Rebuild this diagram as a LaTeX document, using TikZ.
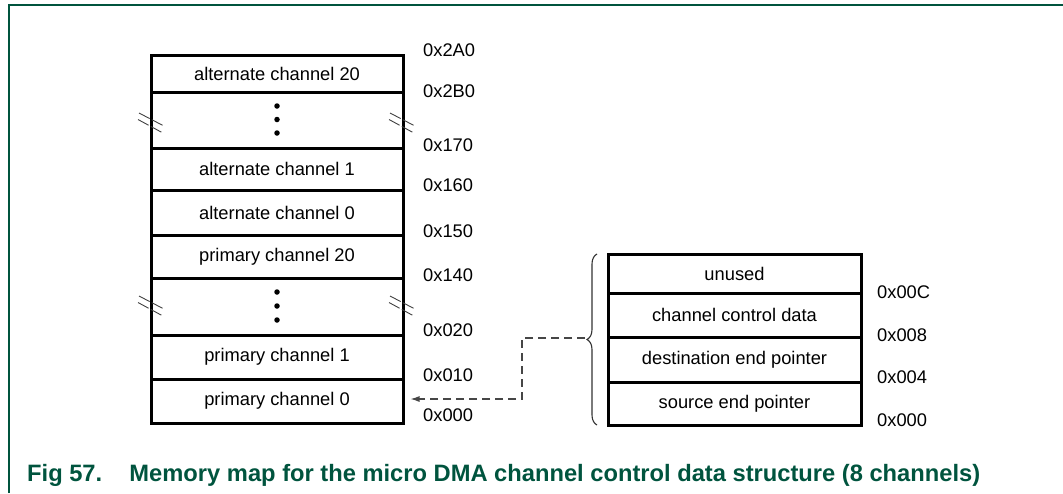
\documentclass[tikz,border=0pt]{standalone}
\usepackage{fontspec}
\setmainfont{Liberation Sans}
\usetikzlibrary{decorations.pathreplacing,arrows.meta}
\definecolor{nxpgreen}{RGB}{0,84,62}
\definecolor{linkgray}{RGB}{70,70,70}
\tikzset{
  brkmark/.pic={
    \draw[line width=0.9pt,black!75,dash pattern=on 12pt off 2.5pt] (-12,-9) -- (12,3.5);
    \draw[line width=0.9pt,black!75,dash pattern=on 12pt off 2.5pt] (-13,-2.5) -- (11,10.5);
  }
}
\begin{document}
\begin{tikzpicture}[x=1pt,y=-1pt,
  memrow/.style={draw,line width=3pt,minimum width=252pt,inner sep=0pt,
                 font=\fontsize{18.3}{20}\selectfont},
  addr/.style={anchor=west,inner sep=0pt,font=\fontsize{18.3}{20}\selectfont},
  dotmark/.style={fill,circle,inner sep=0pt,minimum size=5.5pt},
  link/.style={linkgray,line width=1.2pt,dash pattern=on 8pt off 5pt,
               -{Latex[length=9pt,width=6pt]}},
  bracestyle/.style={line width=1.1pt,black!80,
               decorate,decoration={brace,amplitude=10pt}}
]
\useasboundingbox (0,0) rectangle (1063,493);
% frame
\draw[nxpgreen,line width=2pt] (9,493) -- (9,5) -- (1063,5);

% memory map
\node[memrow,minimum height=37pt] (a20) at (277,73.5) {alternate channel 20};
\node[memrow,minimum height=56pt] (da)  at (277,120)  {};
\node[memrow,minimum height=42pt] (a1)  at (277,169)  {alternate channel 1};
\node[memrow,minimum height=45pt] (a0)  at (277,212.5){alternate channel 0};
\node[memrow,minimum height=43pt] (p20) at (277,256.5){primary channel 20};
\node[memrow,minimum height=57pt] (dp)  at (277,306.5){};
\node[memrow,minimum height=44pt] (p1)  at (277,357)  {primary channel 1};
\node[memrow,minimum height=44pt] (p0)  at (277,401)  {primary channel 0};

\node[dotmark] (da1) at (277,106) {};
\node[dotmark] (da2) at (277,119.5) {};
\node[dotmark] (da3) at (277,133) {};
\node[dotmark] (dp1) at (277,292) {};
\node[dotmark] (dp2) at (277,306) {};
\node[dotmark] (dp3) at (277,320) {};

\pic at (151,122) {brkmark};
\pic at (402,122) {brkmark};
\pic at (151,305) {brkmark};
\pic at (402,305) {brkmark};

\node[addr] (h2a0) at (423,50)  {0x2A0};
\node[addr] (h2b0) at (423,91)  {0x2B0};
\node[addr] (h170) at (423,145) {0x170};
\node[addr] (h160) at (423,185) {0x160};
\node[addr] (h150) at (423,231) {0x150};
\node[addr] (h140) at (423,275) {0x140};
\node[addr] (h020) at (423,330) {0x020};
\node[addr] (h010) at (423,375) {0x010};
\node[addr] (h000) at (423,415) {0x000};

% channel structure
\node[memrow,minimum width=253pt,minimum height=39pt] (un)  at (734.5,273.5) {unused};
\node[memrow,minimum width=253pt,minimum height=44pt] (ccd) at (734.5,315)   {channel control data};
\node[memrow,minimum width=253pt,minimum height=45pt] (dep) at (734.5,359.5) {destination end pointer};
\node[memrow,minimum width=253pt,minimum height=43pt] (sep) at (734.5,403.5) {source end pointer};

\node[addr] (s00c) at (877,292) {0x00C};
\node[addr] (s008) at (877,335) {0x008};
\node[addr] (s004) at (877,377) {0x004};
\node[addr] (s000) at (877,420) {0x000};

% brace
\coordinate (brbot) at (597,425);
\coordinate (brtop) at (597,254);
\draw[bracestyle] (brbot) -- (brtop);
\coordinate (brtip) at (585,338);
\coordinate (bend) at (522,338);
\draw[link] (brtip) -- (bend) |- ([xshift=6pt,yshift=2pt]p0.east);

% caption
\node[anchor=base west,inner sep=0pt,text=nxpgreen,
      font=\fontsize{23.5}{28}\selectfont\bfseries] (cap) at (27,481)
  {\resizebox{953pt}{!}{Fig 57.\hspace{27pt}Memory map for the micro DMA channel control data structure (8 channels)}};
\end{tikzpicture}
\end{document}
